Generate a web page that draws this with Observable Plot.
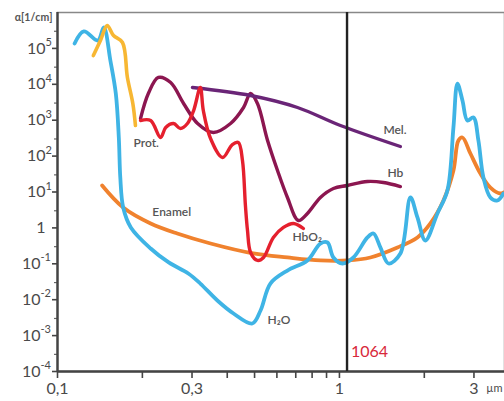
<!DOCTYPE html>
<html><head><meta charset="utf-8">
<script src="https://cdn.jsdelivr.net/npm/d3@7"></script>
<script src="https://cdn.jsdelivr.net/npm/@observablehq/plot@0.6"></script>
<style>
body{margin:0;background:#fff;font-family:Lato,"DejaVu Sans",sans-serif}
#chart{width:504px;height:401px}
</style>
</head><body><div id="chart"></div>
<script>
// [wavelength µm, absorption coefficient 1/cm]
const water = [
  [0.115,1.37e5],[0.124,2.96e5],[0.139,1.66e5],[0.146,3.82e5],[0.154,4.6e4],[0.161,5.54e3],
  [0.165,330],[0.167,25.4],[0.171,3.7],[0.182,1.03],[0.214,0.267],[0.248,0.109],[0.291,0.0537],
  [0.321,0.0282],[0.369,0.00951],[0.421,0.00413],[0.491,0.00217],[0.525,0.005],[0.569,0.0282],
  [0.654,0.065],[0.77,0.124],[0.856,0.367],[0.907,0.392],[0.952,0.15],[1.025,0.102],[1.121,0.15],
  [1.257,0.541],[1.32,0.698],[1.398,0.284],[1.492,0.102],[1.645,0.194],[1.786,7.03],[1.891,1.95],
  [2.018,0.446],[2.226,2.52],[2.415,11.0],[2.537,627],[2.621,1.05e4],[2.731,3.54e3],[2.844,982],
  [2.987,1.19e3],[3.111,272],[3.241,25.4],[3.431,7.03],[3.634,5.8],[3.816,9.08]
];
const enamel = [
  [0.144,15.2],[0.171,3.7],[0.214,1.33],[0.266,0.698],[0.349,0.367],[0.495,0.194],[0.654,0.15],
  [0.856,0.124],[1.067,0.124],[1.288,0.15],[1.606,0.284],[1.891,0.541],[2.102,1.33],[2.338,5.8],
  [2.537,39.7],[2.642,272],[2.731,330],[2.914,118],[3.162,32.7],[3.431,13.3],[3.724,9.08],[3.816,9.7]
];
const protein = [
  [0.134,6.34e4],[0.142,1.66e5],[0.150,4.35e5],[0.158,2.29e5],[0.170,1.46e5],[0.177,1.55e4],
  [0.185,2.92e3],[0.189,712]
];
const hb = [
  [0.197,1.11e3],[0.210,5.54e3],[0.228,1.55e4],[0.252,1.12e4],[0.280,2.92e3],[0.314,809],[0.357,454],
  [0.411,809],[0.457,2.26e3],[0.484,5.54e3],[0.512,2.92e3],[0.556,272],[0.603,39.7],[0.654,7.03],
  [0.715,1.61],[0.770,2.52],[0.856,7.03],[0.952,12.5],[1.067,15.2],[1.257,19.6],[1.432,18.4],[1.645,14.2]
];
const melanin = [
  [0.301,8.15e3],[0.484,4.88e3],[0.710,2.26e3],[1.008,712],[1.645,185]
];
const hbo2 = [
  [0.197,982],[0.214,982],[0.232,330],[0.242,627],[0.258,809],[0.273,587],[0.289,809],[0.304,1.86e3],
  [0.321,8.15e3],[0.329,1.86e3],[0.349,309],[0.385,91.4],[0.417,210],[0.438,239],[0.453,75.4],
  [0.464,4.21],[0.472,0.847],[0.484,0.207],[0.512,0.124],[0.538,0.15],[0.583,0.541],[0.633,1.03],
  [0.687,1.33],[0.745,0.962]
];
const curveLabels = [
  {x:0.186, y:224, text:"Prot."},
  {x:0.217, y:2.69, text:"Enamel"},
  {x:1.432, y:516, text:"Mel."},
  {x:1.48, y:32.7, text:"Hb"},
  {x:0.681, y:0.541, text:"HbO₂"},
  {x:0.556, y:0.00264, text:"H₂O"}
];
const laserWl = [1.064];
const laserLabel = "1064";
const xTicks = [0.1,0.2,0.3,0.4,0.5,0.6,0.7,0.8,0.9,1,2,3];
const xTickLabels = {0.1:"0,1", 0.3:"0,3", 1:"1", 3:"3"};
const yMajor = [1e-4,1e-3,1e-2,1e-1,1,1e1,1e2,1e3,1e4,1e5];
const yMinor = [3e-4,3e-3,3e-2,3e-1,3,3e1,3e2,3e3,3e4,3e5];
const yPos = [{v:1e1,e:"1"},{v:1e2,e:"2"},{v:1e3,e:"3"},{v:1e4,e:"4"},{v:1e5,e:"5"}];
const yNeg = [{v:1e-1,e:"-1"},{v:1e-2,e:"-2"},{v:1e-3,e:"-3"},{v:1e-4,e:"-4"}];
const yOne = [1];

const txt = "#4a4a4a";
const line = (data, color, w=3.6) => Plot.line(data, {x: d=>d[0], y: d=>d[1], stroke: color, strokeWidth: w, curve: "catmull-rom", strokeLinecap: "round", strokeLinejoin: "round", clip: true});

const chart = Plot.plot({
  width: 504, height: 401,
  marginLeft: 57, marginRight: 0, marginTop: 12, marginBottom: 30,
  style: {fontFamily: "Lato, 'DejaVu Sans', sans-serif", background: "#fff"},
  x: {type: "log", domain: [0.1, 3.85], axis: null},
  y: {type: "log", domain: [1e-4, 1e6], axis: null},
  marks: [
    Plot.frame({stroke: "#888", strokeWidth: 1.5}),
    Plot.axisX({ticks: xTicks, tickSize: 7, tickPadding: 4, tickFormat: d => xTickLabels[d] ?? "", label: null, fontSize: 16, color: txt, stroke: "#444", strokeWidth: 1.6}),
    Plot.axisY({ticks: yMajor, tickSize: 5, tickFormat: () => "", label: null, stroke: "#444", strokeWidth: 1.6}),
    Plot.axisY({ticks: yMinor, tickSize: 3, tickFormat: () => "", label: null, stroke: "#666", strokeWidth: 1.2}),
    Plot.text(yPos, {y: "v", text: () => "10", frameAnchor: "left", dx: -12, textAnchor: "end", fontSize: 16, fill: txt}),
    Plot.text(yPos, {y: "v", text: "e", frameAnchor: "left", dx: -12, dy: -6, textAnchor: "start", fontSize: 11, fill: txt}),
    Plot.text(yNeg, {y: "v", text: () => "10", frameAnchor: "left", dx: -17, textAnchor: "end", fontSize: 16, fill: txt}),
    Plot.text(yNeg, {y: "v", text: "e", frameAnchor: "left", dx: -17, dy: -6, textAnchor: "start", fontSize: 11, fill: txt}),
    Plot.text(yOne, {y: d => d, text: () => "1", frameAnchor: "left", dx: -12, textAnchor: "end", fontSize: 16, fill: txt}),
    Plot.text(["α[1/cm]"], {frameAnchor: "top-left", dx: -5, dy: 1, textAnchor: "end", fontSize: 10.5, fontWeight: 700, fill: "#555"}),
    Plot.text(["µm"], {frameAnchor: "bottom-right", dy: 20, dx: -2, textAnchor: "end", fontSize: 11, fill: txt}),
    Plot.ruleX([0.1], {stroke: "#444", strokeWidth: 2.4}),
    Plot.ruleY([1e-4], {stroke: "#444", strokeWidth: 2.4}),
    line(enamel, "#f0822e", 3.8),
    line(water, "#3fb4e5", 3.8),
    line(protein, "#f7b733", 3.6),
    line(hb, "#8c1650", 3.4),
    line(melanin, "#6a2577", 3.4),
    line(hbo2, "#e5202e", 3.4),
    Plot.text(curveLabels, {x: "x", y: "y", text: "text", textAnchor: "start", fontSize: 12, fontWeight: 600, fill: "#555"}),
    Plot.ruleX(laserWl, {stroke: "#222", strokeWidth: 2.4}),
    Plot.text([laserLabel], {x: laserWl, frameAnchor: "bottom", dx: 4, dy: -15, textAnchor: "start", fontSize: 16, fill: "#d8283a"})
  ]
});
document.getElementById("chart").appendChild(chart);
</script>
</body></html>
